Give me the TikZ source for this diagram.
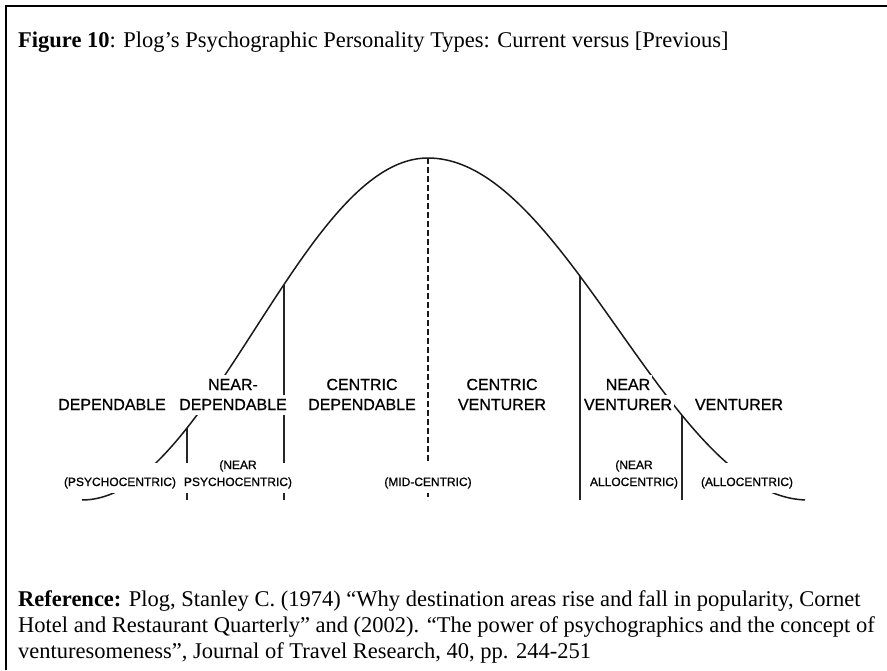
\documentclass[tikz,border=0pt]{standalone}
\usepackage{fontspec}
\setmainfont{Liberation Serif}
\newfontfamily\chartfont[FakeBold=0.8]{Liberation Sans}
\begin{document}
\begin{tikzpicture}[x=1pt, y=-1pt,
  frameline/.style={line width=2pt, draw=black},
  divider/.style={line width=1.3pt, draw=black!85},
  midline/.style={line width=2.6pt, draw=black!90, dash pattern=on 6pt off 3pt},
  bell/.style={line width=1.5pt, draw=black!90},
  bodytext/.style={anchor=base west, inner sep=0pt, font=\fontsize{22.5}{26}\selectfont},
  biglabel/.style={anchor=base, fill=white, inner xsep=2pt, inner ysep=1pt,
    text height=14pt, text depth=4pt, font=\chartfont\fontsize{16}{20}\selectfont},
  smalllabel/.style={anchor=base, fill=white, inner xsep=2pt, inner ysep=0pt,
    text height=23pt, text depth=7pt, font=\chartfont\fontsize{12}{17}\selectfont},
  smalltop/.style={anchor=base, inner sep=0pt, font=\chartfont\fontsize{12}{17}\selectfont},
]
\useasboundingbox (0,0) rectangle (887,670);

% page frame (left and top edges)
\draw[frameline] (6,670) -- (6,6) -- (887,6);

% caption
\node[bodytext] (title) at (18,47)
  {\textbf{Figure 10}: Plog’s Psychographic Personality Types: Current versus [Previous]};

% points where the dividers meet the curve
% (curve: raised cosine of height 342, half-width 346 left, 380 right)
\coordinate (peak) at (428,158);
\coordinate (t1) at (187,428.0);
\coordinate (t2) at (284,284.5);
\coordinate (t3) at (580,276.2);
\coordinate (t4) at (682,415.3);
\coordinate (b0) at (428,500);
\coordinate (b1) at (187,500);
\coordinate (b2) at (284,500);
\coordinate (b3) at (580,500);
\coordinate (b4) at (682,500);

% segment dividers
\draw[divider] (t1) -- (b1);
\draw[divider] (t2) -- (b2);
\draw[divider] (t3) -- (b3);
\draw[divider] (t4) -- (b4);
\draw[midline] (peak) -- (b0);

% the distribution curve
\draw[bell] plot[domain=82:428, samples=90] (\x, {158+171*(1-cos(0.520231*(428-\x)))});
\draw[bell] plot[domain=428:805, samples=90] (\x, {158+171*(1-cos(0.473684*(\x-428)))});

% segment names
\node[biglabel] (dep)   at (112,410) {DEPENDABLE};
\node[biglabel] (ndepa) at (233,390) {NEAR-};
\node[biglabel] (ndepb) at (233,410) {DEPENDABLE};
\node[biglabel] (cdepa) at (362,390) {CENTRIC};
\node[biglabel] (cdepb) at (362,410) {DEPENDABLE};
\node[biglabel] (cvena) at (502,390) {CENTRIC};
\node[biglabel] (cvenb) at (502,410) {VENTURER};
\node[biglabel] (nvena) at (628,390) {NEAR};
\node[biglabel] (nvenb) at (628,410) {VENTURER};
\node[biglabel] (ven)   at (739,410) {VENTURER};

% former names
\node[smalllabel] (psy)   at (120,486) {(PSYCHOCENTRIC)};
\node[smalllabel] (npsyb) at (238,486) {PSYCHOCENTRIC)};
\node[smalllabel] (mid)   at (428,486) {(MID-CENTRIC)};
\node[smalllabel] (nallb) at (634,486) {ALLOCENTRIC)};
\node[smalllabel] (all)   at (747,486) {(ALLOCENTRIC)};
\node[smalltop] (npsya) at (238,469) {(NEAR};
\node[smalltop] (nalla) at (634,469) {(NEAR};

% source
\node[bodytext] (ref1) at (18,606)
  {\textbf{Reference:} Plog, Stanley C. (1974) “Why destination areas rise and fall in popularity, Cornet};
\node[bodytext] (ref2) at (18,632)
  {Hotel and Restaurant Quarterly” and (2002). “The power of psychographics and the concept of};
\node[bodytext] (ref3) at (18,658)
  {venturesomeness”, Journal of Travel Research, 40, pp. 244-251};
\end{tikzpicture}
\end{document}
